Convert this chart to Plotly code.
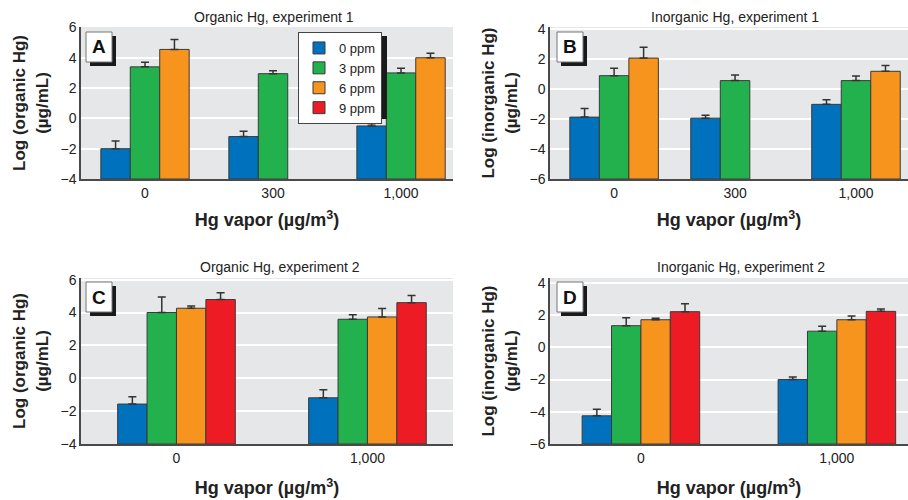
import plotly.graph_objects as go

W, H = 908, 500
FONT = "Liberation Sans Narrow, Arial Narrow, Liberation Sans, Arial, sans-serif"

# ---------------- data ----------------
series_names = ["0 ppm", "3 ppm", "6 ppm", "9 ppm"]
series_colors = ["#0071BC", "#22B14C", "#F7941D", "#ED1C24"]

cats_exp1 = ["0", "300", "1,000"]
cats_exp2 = ["0", "1,000"]

# Panel A: Organic Hg, experiment 1
a_vals = {
    "0 ppm": [-2.0, -1.2, -0.5],
    "3 ppm": [3.4, 2.95, 3.0],
    "6 ppm": [4.55, None, 4.0],
}
a_err = {
    "0 ppm": [0.5, 0.35, 0.15],
    "3 ppm": [0.3, 0.2, 0.3],
    "6 ppm": [0.65, None, 0.3],
}
# Panel B: Inorganic Hg, experiment 1
b_vals = {
    "0 ppm": [-1.88, -1.95, -1.03],
    "3 ppm": [0.88, 0.55, 0.55],
    "6 ppm": [2.05, None, 1.17],
}
b_err = {
    "0 ppm": [0.58, 0.2, 0.31],
    "3 ppm": [0.5, 0.37, 0.31],
    "6 ppm": [0.73, None, 0.38],
}
# Panel C: Organic Hg, experiment 2
c_vals = {
    "0 ppm": [-1.57, -1.19],
    "3 ppm": [4.0, 3.59],
    "6 ppm": [4.26, 3.73],
    "9 ppm": [4.79, 4.6],
}
c_err = {
    "0 ppm": [0.44, 0.49],
    "3 ppm": [0.95, 0.28],
    "6 ppm": [0.14, 0.51],
    "9 ppm": [0.42, 0.43],
}
# Panel D: Inorganic Hg, experiment 2
d_vals = {
    "0 ppm": [-4.25, -2.0],
    "3 ppm": [1.34, 1.0],
    "6 ppm": [1.71, 1.71],
    "9 ppm": [2.21, 2.23],
}
d_err = {
    "0 ppm": [0.4, 0.15],
    "3 ppm": [0.5, 0.31],
    "6 ppm": [0.1, 0.23],
    "9 ppm": [0.5, 0.14],
}

organic_ticks = [-4, -2, 0, 2, 4, 6]
inorganic_ticks = [-6, -4, -2, 0, 2, 4]


def tick_text(vals):
    return [("\u2212" + str(-v)) if v < 0 else str(v) for v in vals]


# ---------------- layout helpers ----------------
def px_x(p):
    return p / W


def px_y(p):
    return 1 - p / H


panels = [
    ("A", cats_exp1, a_vals, a_err, "x", "y", (81, 453), (27, 179), [-0.5, 2.406], [-4, 6.03], 0.23,
     organic_ticks, "Log (organic Hg)<br>(µg/mL)", "Organic Hg, experiment 1", (274, 17), 14),
    ("B", cats_exp1, b_vals, b_err, "x2", "y2", (550, 908), (27, 179), [-0.53, 2.43], [-6, 4.12], 0.244,
     inorganic_ticks, "Log (inorganic Hg)<br>(µg/mL)", "Inorganic Hg, experiment 1", (735, 17), 14),
    ("C", cats_exp2, c_vals, c_err, "x3", "y3", (81, 453), (278, 444), [-0.5, 1.448], [-4, 6.1], 0.154,
     organic_ticks, "Log (organic Hg)<br>(µg/mL)", "Organic Hg, experiment 2", (280, 267), 17),
    ("D", cats_exp2, d_vals, d_err, "x4", "y4", (550, 908), (278, 444), [-0.464, 1.363], [-6, 4.3], 0.15,
     inorganic_ticks, "Log (inorganic Hg)<br>(µg/mL)", "Inorganic Hg, experiment 2", (741, 267), 17),
]

label_boxes = {"A": (86, 32), "B": (557, 32), "C": (86, 282), "D": (557, 282)}

fig = go.Figure()
shapes = []
annotations = []
layout = {}

for (key, cats, vals, errs, xa, ya, xdom, ydom, xr, yr, bw, yticks, ytitle, ptitle, tpos, xstand) in panels:
    names = list(vals.keys())
    n = len(names)
    base = yr[0]
    for i, name in enumerate(names):
        idx = series_names.index(name)
        heights = [None if v is None else v - base for v in vals[name]]
        fig.add_trace(go.Bar(
            x=cats, y=heights, base=base, name=name,
            customdata=vals[name], hovertemplate="%{customdata}<extra>" + name + "</extra>",
            xaxis=xa, yaxis=ya,
            width=bw, offset=-n * bw / 2 + i * bw,
            marker=dict(color=series_colors[idx], line=dict(color="#3a3a3a", width=1)),
            error_y=dict(type="data", symmetric=False, array=errs[name],
                         arrayminus=[0] * len(cats), color="#333333", thickness=1.5, width=4),
            showlegend=(key == "C"), legendgroup=name,
        ))
    xk = "xaxis" if xa == "x" else "xaxis" + xa[1:]
    yk = "yaxis" if ya == "y" else "yaxis" + ya[1:]
    layout[xk] = dict(
        domain=[px_x(xdom[0]), px_x(xdom[1])], anchor=ya, type="category",
        categoryorder="array", categoryarray=cats, range=xr, automargin=False,
        showline=True, linecolor="#4a4a4a", linewidth=1.5, showgrid=False,
        ticks="", tickfont=dict(family=FONT, size=14, color="#222"),
        title=dict(text="Hg vapor (µg/m<sup>3</sup>)", standoff=xstand,
                   font=dict(family=FONT, size=18, color="#222", weight="bold")),
        zeroline=False, fixedrange=True,
    )
    layout[yk] = dict(
        domain=[px_y(ydom[1]), px_y(ydom[0])], anchor=xa, range=yr, automargin=False,
        tickvals=yticks, ticktext=tick_text(yticks),
        showline=True, linecolor="#4a4a4a", linewidth=1.5,
        showgrid=True, gridcolor="white", gridwidth=1.5, zeroline=False,
        ticks="", tickfont=dict(family=FONT, size=14, color="#222"),
        title=dict(text=ytitle, standoff=8,
                   font=dict(family=FONT, size=17, color="#222", weight="bold")),
        fixedrange=True,
    )
    shapes.append(dict(type="rect", xref="paper", yref="paper", layer="below",
                       x0=px_x(xdom[0]), x1=px_x(xdom[1]), y0=px_y(ydom[1]), y1=px_y(ydom[0]),
                       fillcolor="#E6E7E8", line=dict(width=0)))
    annotations.append(dict(text=ptitle, xref="paper", yref="paper", x=px_x(tpos[0]), y=px_y(tpos[1]),
                            xanchor="center", yanchor="middle", showarrow=False,
                            font=dict(family=FONT, size=14, color="#222")))
    bx, by = label_boxes[key]
    shapes.append(dict(type="rect", xref="paper", yref="paper", layer="above",
                       x0=px_x(bx + 4), x1=px_x(bx + 30), y0=px_y(by + 34), y1=px_y(by + 4),
                       fillcolor="#1a1a1a", line=dict(width=0)))
    shapes.append(dict(type="rect", xref="paper", yref="paper", layer="above",
                       x0=px_x(bx), x1=px_x(bx + 26), y0=px_y(by + 30), y1=px_y(by),
                       fillcolor="white", line=dict(color="#777", width=1)))
    annotations.append(dict(text="<b>%s</b>" % key, xref="paper", yref="paper",
                            x=px_x(bx + 13), y=px_y(by + 15), xanchor="center", yanchor="middle",
                            showarrow=False, font=dict(family=FONT, size=19, color="#111")))

# legend shadow
shapes.append(dict(type="rect", xref="paper", yref="paper", layer="above",
                   x0=px_x(302), x1=px_x(387), y0=px_y(119), y1=px_y(36),
                   fillcolor="#1a1a1a", line=dict(width=0)))

fig.update_layout(
    width=W, height=H, autosize=False,
    margin=dict(l=0, r=0, t=0, b=0, autoexpand=False),
    paper_bgcolor="white", plot_bgcolor="rgba(0,0,0,0)",
    barmode="overlay",
    font=dict(family=FONT, color="#222"),
    showlegend=True,
    legend=dict(x=px_x(298), y=px_y(32), xanchor="left", yanchor="top",
                bgcolor="white", bordercolor="#444", borderwidth=1,
                font=dict(family=FONT, size=13, color="#222"),
                tracegroupgap=0, itemwidth=30, traceorder="normal"),
    shapes=shapes, annotations=annotations,
    **layout,
)

fig.write_html("out.html", config={"displayModeBar": False},
               post_script="document.body.style.margin='0px';")
